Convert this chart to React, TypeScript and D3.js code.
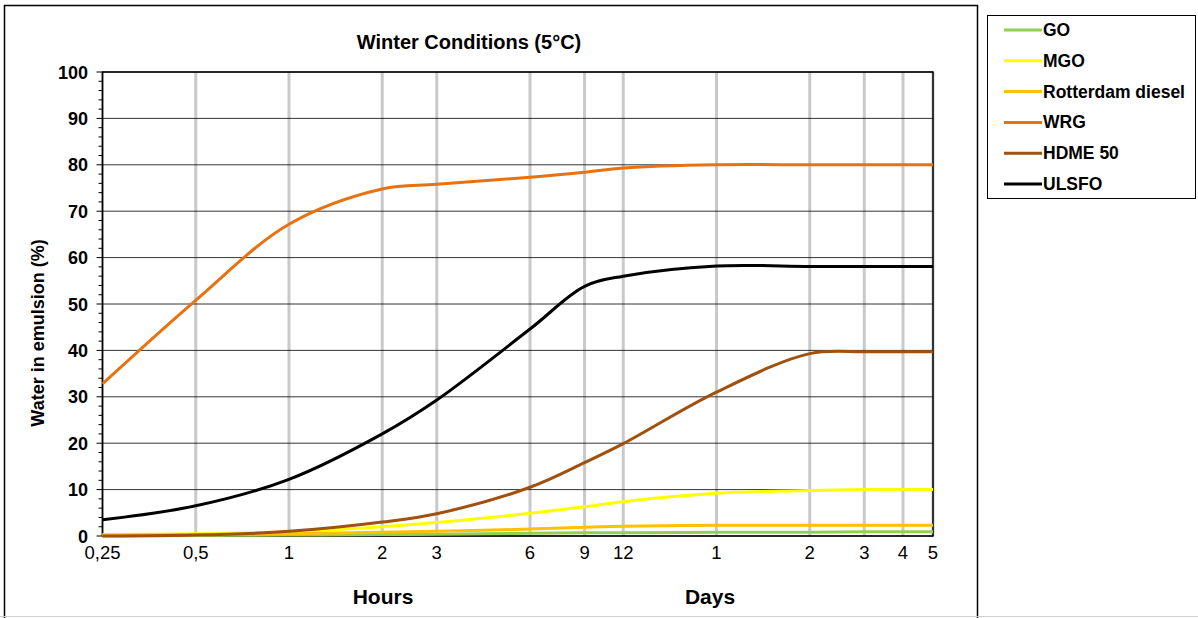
import React from "react";
import * as d3 from "d3";

const hours = [0.25, 0.5, 1, 2, 3, 6, 9, 12, 24, 48, 72, 96, 120];
const tickLabels = ["0,25", "0,5", "1", "2", "3", "6", "9", "12", "1", "2", "3", "4", "5"];
const seriesNames = ["GO", "MGO", "Rotterdam diesel", "WRG", "HDME 50", "ULSFO"];
const seriesColors = ["#92D050", "#FFFF00", "#FFC000", "#E87211", "#A0500F", "#000000"];
const goValues = [0, 0.1, 0.2, 0.3, 0.4, 0.6, 0.7, 0.7, 0.8, 0.8, 0.9, 0.9, 0.9];
const mgoValues = [0.3, 0.5, 0.9, 2.0, 2.9, 4.9, 6.3, 7.4, 9.2, 9.8, 10, 10, 10];
const rotterdamValues = [0.2, 0.3, 0.5, 0.8, 1.0, 1.5, 1.9, 2.1, 2.3, 2.3, 2.3, 2.3, 2.3];
const wrgValues = [32.8, 50.8, 67.2, 74.8, 75.8, 77.3, 78.4, 79.3, 80, 80, 80, 80, 80];
const hdmeValues = [0, 0.2, 1.0, 3.0, 4.8, 10.5, 15.8, 19.9, 31, 39.3, 39.7, 39.7, 39.7];
const ulsfoValues = [3.5, 6.5, 12.2, 22, 29.3, 44.6, 53.8, 56, 58.2, 58.1, 58.1, 58.1, 58.1];
const seriesValues = [goValues, mgoValues, rotterdamValues, wrgValues, hdmeValues, ulsfoValues];
const yTicks = [0, 10, 20, 30, 40, 50, 60, 70, 80, 90, 100];

const FONT = "Arial, 'Liberation Sans', sans-serif";

export default function App() {
  const W = 1198, H = 618;
  const left = 102.5, right = 933, top = 72, bottom = 536;
  const x = d3.scaleLog().domain([0.25, 120]).range([left, right]);
  const y = d3.scaleLinear().domain([0, 100]).range([bottom, top]);
  const minor = d3.range(0, 100, 2).filter((v) => v % 10 !== 0);
  const line = d3
    .line<number>()
    .x((_, i) => x(hours[i]))
    .y((d) => y(d))
    .curve(d3.curveCatmullRom.alpha(0.5));

  return (
    <svg width={W} height={H} style={{ position: "absolute", left: 0, top: 0, background: "#fff" }} fontFamily={FONT}>
      <rect x={0} y={0} width={W} height={H} fill="#fff" />
      {/* outer chart frame */}
      <rect x={4.5} y={5.5} width={973} height={620} fill="none" stroke="#000" strokeWidth={1.5} />
      <line x1={0} x2={W} y1={616.5} y2={616.5} stroke="#d0d0d0" strokeWidth={1} />
      <text x={469} y={49} textAnchor="middle" fontSize={20} fontWeight="bold">Winter Conditions (5°C)</text>

      {/* vertical grid */}
      {hours.map((h, i) => (
        <line key={"vg" + i} x1={x(h)} x2={x(h)} y1={top} y2={bottom} stroke="#c9c9c9" strokeWidth={3} />
      ))}
      {/* horizontal grid */}
      {yTicks.map((t) => (
        <line key={"hg" + t} x1={left} x2={right} y1={y(t)} y2={y(t)} stroke="#000" strokeWidth={0.8} />
      ))}
      {/* plot frame */}
      <rect x={left} y={top} width={right - left} height={bottom - top} fill="none" stroke="#000" strokeWidth={1.5} />
      {/* y ticks */}
      {yTicks.map((t) => (
        <g key={"yt" + t}>
          <line x1={left - 6} x2={left} y1={y(t)} y2={y(t)} stroke="#000" strokeWidth={1} />
          <text x={88} y={y(t) + 6.5} textAnchor="end" fontSize={18} fontWeight="bold">{t}</text>
        </g>
      ))}
      {minor.map((t) => (
        <line key={"mt" + t} x1={left - 4} x2={left} y1={y(t)} y2={y(t)} stroke="#000" strokeWidth={1} />
      ))}
      {/* x labels */}
      {hours.map((h, i) => (
        <text key={"xl" + i} x={x(h)} y={559} textAnchor="middle" fontSize={18.5}>{tickLabels[i]}</text>
      ))}
      <text x={383} y={604} textAnchor="middle" fontSize={21} fontWeight="bold">Hours</text>
      <text x={710} y={604} textAnchor="middle" fontSize={21} fontWeight="bold">Days</text>
      <text transform="translate(44,333) rotate(-90)" textAnchor="middle" fontSize={18} fontWeight="bold">Water in emulsion (%)</text>

      {/* series */}
      {seriesValues.map((vals, si) => (
        <path key={"s" + si} d={line(vals) || ""} fill="none" stroke={seriesColors[si]} strokeWidth={3} />
      ))}

      {/* legend */}
      <rect x={987.5} y={15.5} width={208} height={183} fill="#fff" stroke="#000" strokeWidth={1} />
      {seriesNames.map((n, i) => {
        const ly = 30 + i * 30.8;
        return (
          <g key={"lg" + i}>
            <line x1={1004} x2={1042} y1={ly} y2={ly} stroke={seriesColors[i]} strokeWidth={3} />
            <text x={1043} y={ly + 6} fontSize={17.5} fontWeight="bold">{n}</text>
          </g>
        );
      })}
    </svg>
  );
}
